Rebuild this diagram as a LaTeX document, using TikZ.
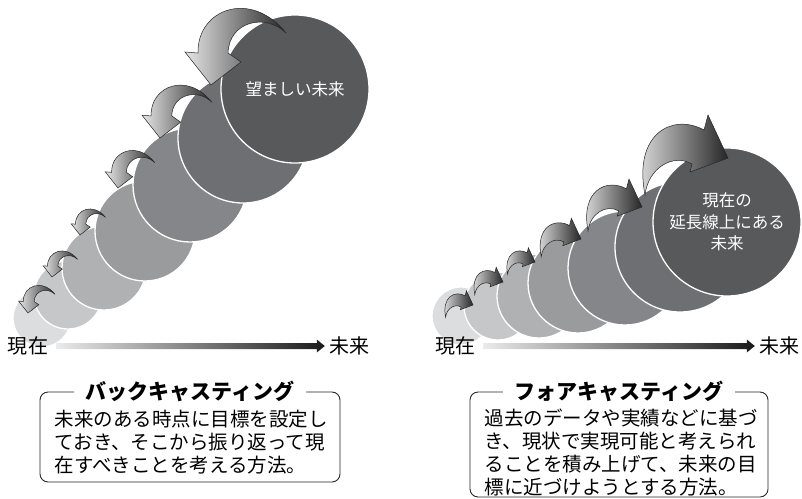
\documentclass[tikz,border=0pt]{standalone}
\usepackage{fontspec}
\setmainfont{Noto Sans CJK JP}
\usetikzlibrary{calc}

\definecolor{g1}{HTML}{DCDDDE}
\definecolor{g2}{HTML}{C6C7C9}
\definecolor{g3}{HTML}{B0B1B3}
\definecolor{g4}{HTML}{9A9B9D}
\definecolor{g5}{HTML}{85868A}
\definecolor{g6}{HTML}{6E6F73}
\definecolor{g7}{HTML}{58595B}

\begin{document}
\begin{tikzpicture}[x=1pt,y=1pt,
  disc/.style={circle,inner sep=0pt,draw=white,line width=1.3pt},
  turnfill/.style={draw=black!85,line width=0.5pt,left color=black!10,right color=black!85},
  bturn/.pic={\shade[turnfill] (0,0) -- (-26,33) -- (-13,32) .. controls (-14,76) and (40,96) .. (75,52) .. controls (55,72) and (18,64) .. (17,32) -- (30,23) -- cycle;},
  fturn/.pic={\shade[turnfill] (0,0) -- (-20,43) -- (-24,28) .. controls (-55,45) and (-95,25) .. (-83,-37) .. controls (-80,-10) and (-55,5) .. (-36,-6) -- (-38,-14) -- cycle;},
  stamp/.style={inner sep=0pt,font=\fontsize{20}{20}\selectfont},
  axisbar/.style={left color=black!8,right color=black!90},
  panel/.style={draw=black!85,line width=0.9pt,rounded corners=8pt,inner sep=0pt},
  heading/.style={fill=white,inner xsep=12pt,inner ysep=1pt,font=\fontsize{21}{21}\selectfont\bfseries},
  body/.style={anchor=north west,align=left,inner sep=0pt,font=\fontsize{19.5}{23}\selectfont}]

\useasboundingbox (0,0) rectangle (802,-498);

\foreach \n/\x/\y/\r in {1/42/318/29, 2/68/295/34, 3/104/268/42, 4/145/231/50, 5/190/185/57, 6/243/138/65}
  \node (L\n) at (\x,-\y)[disc,fill=g\n,minimum size=2*\r] {};
\node (L7) at (295,-89)[disc,fill=g7,minimum size=148,text=white,font=\fontsize{16.5}{20}\selectfont] {望ましい未来};

\foreach \x/\y/\s in {28/313/0.36, 52/277/0.34, 80/235/0.34, 118/188/0.49, 160/138/0.69, 211/85/1}
  \pic[scale=\s] at (\x,-\y) {bturn};

\foreach \n/\x/\y/\r in {1/461/316/29, 2/498/306/34, 3/539/296/42, 4/578/283/50, 5/625/268/57, 6/680/247/65}
  \node (R\n) at (\x,-\y)[disc,fill=g\n,minimum size=2*\r] {};
\node (R7) at (727,-222)[disc,fill=g7,minimum size=148,text=white,align=center,font=\fontsize{16.5}{21.5}\selectfont] {現在の\\延長線上にある\\未来};

\foreach \x/\y/\s in {473/305/0.33, 503/282/0.34, 535/262/0.33, 581/239/0.48, 642/207/0.65, 728/158/1}
  \pic[scale=\s] at (\x,-\y) {fturn};

\node (nowL) at (28,-346)[stamp] {現在};
\node (futL) at (349,-346)[stamp] {未来};
\shade[axisbar] ($(nowL.east)+(8,3)$) -- ($(futL.west)+(-12,3)$) -- ($(futL.west)+(-12,6.5)$) -- ($(futL.west)+(-4,0)$) -- ($(futL.west)+(-12,-6.5)$) -- ($(futL.west)+(-12,-3)$) -- ($(nowL.east)+(8,-3)$) -- cycle;

\node (nowR) at (455,-346)[stamp] {現在};
\node (futR) at (779,-346)[stamp] {未来};
\shade[axisbar] ($(nowR.east)+(8,3)$) -- ($(futR.west)+(-12,3)$) -- ($(futR.west)+(-12,6.5)$) -- ($(futR.west)+(-4,0)$) -- ($(futR.west)+(-12,-6.5)$) -- ($(futR.west)+(-12,-3)$) -- ($(nowR.east)+(8,-3)$) -- cycle;

\node (lbox) at (190,-437)[panel,minimum width=300,minimum height=90] {};
\node (ltitle) at (lbox.north)[heading] {バックキャスティング};
\node (lbody) at ($(lbox.north west)+(15,-18)$)[body] {未来のある時点に目標を設定し\\ておき、そこから振り返って現\\在すべきことを考える方法。};

\node (rbox) at (619,-444.5)[panel,minimum width=298,minimum height=105] {};
\node (rtitle) at (rbox.north)[heading] {フォアキャスティング};
\node (rbody) at ($(rbox.north west)+(15,-17)$)[body] {過去のデータや実績などに基づ\\き、現状で実現可能と考えられ\\ることを積み上げて、未来の目\\標に近づけようとする方法。};
\end{tikzpicture}
\end{document}
